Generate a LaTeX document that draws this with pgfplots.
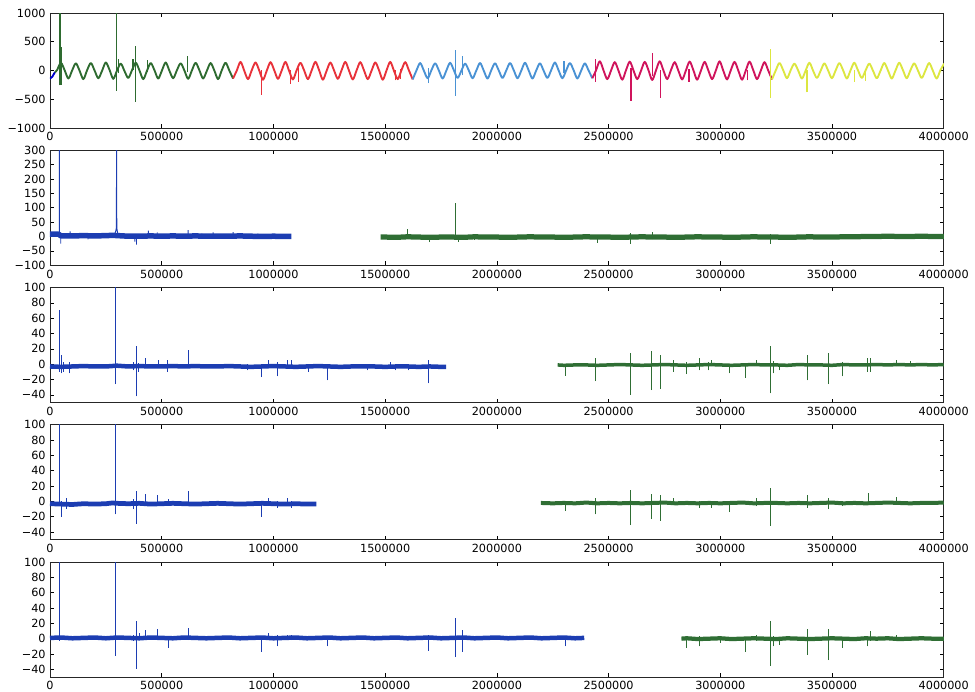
\documentclass[border=0pt]{standalone}
\usepackage{fontspec}
\setmainfont{DejaVu Sans}
\usepackage{pgfplots}
\pgfplotsset{compat=1.18}

\definecolor{sgreen}{HTML}{2E6B30}
\definecolor{sred}{HTML}{E8323A}
\definecolor{sblue}{HTML}{4A92D4}
\definecolor{smag}{HTML}{D0145C}
\definecolor{syel}{HTML}{DCE640}
\definecolor{cblue}{HTML}{1C3DB2}
\definecolor{cgreen}{HTML}{2F6E34}

\pgfplotsset{
  strip/.style={
    width=715pt, height=92pt, scale only axis, anchor=north west,
    xmin=0, xmax=4000000,
    xtick={0,500000,1000000,1500000,2000000,2500000,3000000,3500000,4000000},
    xticklabels={0,500000,1000000,1500000,2000000,2500000,3000000,3500000,4000000},
    scaled x ticks=false, scaled y ticks=false,
    tick align=inside, major tick length=3pt,
    tick style={black, line width=0.5pt},
    axis line style={line width=0.7pt, black!85},
    ticklabel style={font=\fontsize{9}{10}\selectfont},
    unbounded coords=jump,
  },
  spike/.style={line width=0.75pt},
  band/.style={line width=3pt, line join=round},
  wave/.style={line width=1.5pt, smooth, line join=round},
  lowstrip/.style={strip, ymin=-50, ymax=100,
    ytick={-40,-20,0,20,40,60,80,100},
    yticklabels={−40,−20,0,20,40,60,80,100}},
}

\begin{document}
\begin{tikzpicture}
\useasboundingbox (-40pt,10.4pt) rectangle (740pt,-543.2pt);

% ---------- channel 1: raw signal, one colour per recording block ----------
\begin{axis}[strip, at={(0,0)}, ymin=-1000, ymax=1000,
  ytick={-1000,-500,0,500,1000}, yticklabels={−1000,−500,0,500,1000}]
\addplot[blue!80!black, line width=1.5pt] coordinates {(0,-140) (10000,-110) (22000,-30)};
\addplot[sgreen, wave] coordinates {
(22000,-30) (32000,10) (48750,135) (65500,5) (82250,-140)
(99000,0) (115750,125) (132500,-5) (149250,-150)
(166000,5) (182750,130) (199500,0) (216250,-135)
(233000,-5) (249750,140) (266500,10) (283250,-145)
(300000,0) (316750,120) (333500,-10) (350250,-130)
(367000,5) (383750,135) (400500,0) (417250,-150)
(434000,-5) (450750,130) (467500,5) (484250,-140)
(501000,0) (517750,140) (534500,-5) (551250,-135)
(568000,5) (584750,125) (601500,0) (618250,-145)
(635000,0) (651750,135) (668500,5) (685250,-140)
(702000,-5) (718750,130) (735500,0) (752250,-150)
(769000,5) (785750,135) (802500,0) (819250,-140)};
\addplot[sred, wave] coordinates {
(819250,-140)
(836000,0) (852750,150) (869500,-5) (886250,-150)
(903000,5) (919750,140) (936500,0) (953250,-160)
(970000,-5) (986750,145) (1003500,5) (1020250,-145)
(1037000,0) (1053750,150) (1070500,-10) (1087250,-155)
(1104000,5) (1120750,135) (1137500,0) (1154250,-150)
(1171000,0) (1187750,150) (1204500,5) (1221250,-160)
(1238000,-5) (1254750,140) (1271500,0) (1288250,-145)
(1305000,5) (1321750,150) (1338500,-5) (1355250,-155)
(1372000,0) (1388750,145) (1405500,0) (1422250,-150)
(1439000,-5) (1455750,140) (1472500,5) (1489250,-160)
(1506000,0) (1522750,150) (1539500,-5) (1556250,-150)
(1573000,5) (1589750,145) (1606500,0) (1623250,-155)};
\addplot[sblue, wave] coordinates {
(1623250,-155)
(1640000,0) (1656750,130) (1673500,-5) (1690250,-135)
(1707000,5) (1723750,125) (1740500,0) (1757250,-140)
(1774000,0) (1790750,135) (1807500,5) (1824250,-130)
(1841000,-5) (1857750,120) (1874500,0) (1891250,-135)
(1908000,0) (1924750,130) (1941500,-5) (1958250,-140)
(1975000,5) (1991750,125) (2008500,0) (2025250,-130)
(2042000,0) (2058750,130) (2075500,5) (2092250,-135)
(2109000,-5) (2125750,135) (2142500,0) (2159250,-140)
(2176000,0) (2192750,125) (2209500,-5) (2226250,-130)
(2243000,5) (2259750,140) (2276500,0) (2293250,-135)
(2310000,0) (2326750,130) (2343500,5) (2360250,-140)
(2377000,-5) (2393750,125) (2410500,0) (2427250,-135)};
\addplot[smag, wave] coordinates {
(2427250,-135)
(2444000,5) (2460750,160) (2477500,0) (2494250,-150)
(2511000,0) (2527750,145) (2544500,-5) (2561250,-160)
(2578000,5) (2594750,155) (2611500,0) (2628250,-150)
(2645000,-5) (2661750,150) (2678500,5) (2695250,-165)
(2712000,0) (2728750,160) (2745500,0) (2762250,-150)
(2779000,5) (2795750,145) (2812500,-5) (2829250,-155)
(2846000,0) (2862750,155) (2879500,5) (2896250,-160)
(2913000,-5) (2929750,150) (2946500,0) (2963250,-150)
(2980000,0) (2996750,160) (3013500,-5) (3030250,-155)
(3047000,5) (3063750,150) (3080500,0) (3097250,-160)
(3114000,0) (3130750,155) (3147500,5) (3164250,-150)
(3181000,-5) (3197750,145) (3214500,0) (3231250,-155)};
\addplot[syel, wave] coordinates {
(3231250,-155)
(3248000,0) (3264750,130) (3281500,5) (3298250,-135)
(3315000,5) (3331750,120) (3348500,0) (3365250,-140)
(3382000,0) (3398750,135) (3415500,-5) (3432250,-130)
(3449000,-5) (3465750,125) (3482500,0) (3499250,-135)
(3516000,0) (3532750,130) (3549500,5) (3566250,-140)
(3583000,5) (3599750,135) (3616500,0) (3633250,-130)
(3650000,0) (3666750,120) (3683500,-5) (3700250,-135)
(3717000,-5) (3733750,130) (3750500,0) (3767250,-140)
(3784000,0) (3800750,135) (3817500,5) (3834250,-135)
(3851000,5) (3867750,125) (3884500,0) (3901250,-130)
(3918000,0) (3934750,130) (3951500,-5) (3968250,-140)
(3985000,5) (4001750,120)};
% transients
\addplot[sgreen, spike, line width=1pt] coordinates {
(44700,-260) (44700,1000) (44700,nan)
(52000,-250) (52000,400) (52000,nan)
(298000,-350) (298000,1000) (298000,nan)
(306000,-50) (306000,200) (306000,nan)
(372000,0) (372000,200) (372000,nan)
(384000,-540) (384000,420) (384000,nan)
(437000,-20) (437000,190) (437000,nan)
(617000,-30) (617000,250)};
\addplot[sred, spike, line width=1pt] coordinates {
(946000,-420) (946000,0) (946000,nan)
(1075000,-230) (1075000,0) (1075000,nan)
(1112000,-200) (1112000,50) (1112000,nan)
(1545000,-170) (1545000,0) (1545000,nan)
(1570000,-150) (1570000,20)};
\addplot[sblue, spike, line width=1pt] coordinates {
(1694000,-220) (1694000,50) (1694000,nan)
(1814000,-440) (1814000,360) (1814000,nan)
(1846000,-80) (1846000,260) (1846000,nan)
(2300000,-50) (2300000,170)};
\addplot[smag, spike, line width=1pt] coordinates {
(2443000,-200) (2443000,200) (2443000,nan)
(2600000,-530) (2600000,50) (2600000,nan)
(2695000,-100) (2695000,300) (2695000,nan)
(2733000,-470) (2733000,0) (2733000,nan)
(2860000,-200) (2860000,20) (2860000,nan)
(3120000,-170) (3120000,0)};
\addplot[syel, spike, line width=1pt] coordinates {
(3225000,-480) (3225000,380) (3225000,nan)
(3388000,-380) (3388000,0) (3388000,nan)
(3600000,-200) (3600000,0) (3600000,nan)
(3650000,-180) (3650000,10)};
\end{axis}

% ---------- channel 2 ----------
\begin{axis}[strip, at={(0,-109.8pt)}, ymin=-100, ymax=300,
  ytick={-100,-50,0,50,100,150,200,250,300},
  yticklabels={−100,−50,0,50,100,150,200,250,300}]
\addplot[cblue, band, line width=4.4pt] coordinates {
(0,8) (38000,8) (50000,2) (100000,2) (150000,3) (200000,2) (250000,3)
(280000,4) (304000,3) (350000,1) (400000,1)
(450000,2) (500000,1) (550000,2) (600000,1) (650000,2) (700000,1)
(750000,1) (800000,1) (850000,2) (900000,1) (950000,0) (1000000,1)
(1050000,0) (1080000,0)};
\addplot[cblue, spike] coordinates {
(41700,-5) (41700,320) (41700,nan)
(48000,-25) (48000,8) (48000,nan)
(90000,-5) (90000,18) (90000,nan)
(170000,-10) (170000,8) (170000,nan)
(288000,5) (294000,18) (297000,30) (298000,320) (298000,nan)
(298000,320) (299000,30) (302000,15) (306000,5) (306000,nan)
(380000,-18) (380000,5) (380000,nan)
(387000,-28) (387000,8) (387000,nan)
(440000,-5) (440000,20) (440000,nan)
(480000,-3) (480000,14) (480000,nan)
(540000,-5) (540000,12) (540000,nan)
(618000,-5) (618000,22) (618000,nan)
(680000,-8) (680000,10) (680000,nan)
(730000,0) (730000,14) (730000,nan)
(820000,-3) (820000,15) (820000,nan)
(930000,-5) (930000,10) (930000,nan)
(1010000,-8) (1010000,9)};
\addplot[cgreen, band, line width=4.2pt] coordinates {
(1480000,-2) (1500000,-2) (1550000,-3) (1600000,-1) (1650000,-2) (1700000,-3)
(1750000,-2) (1800000,-2) (1850000,-3) (1900000,-1) (1950000,-2) (2000000,-2)
(2050000,-3) (2100000,-2) (2150000,-1) (2200000,-2) (2250000,-2) (2300000,-3)
(2350000,-2) (2400000,-1) (2450000,-2) (2500000,-2) (2550000,-3) (2600000,-2)
(2650000,-1) (2700000,-2) (2750000,-2) (2800000,-3) (2850000,-2) (2900000,-1)
(2950000,-2) (3000000,-2) (3050000,-3) (3100000,-2) (3150000,-1) (3200000,-2)
(3250000,-2) (3300000,-3) (3350000,-2) (3400000,-1) (3450000,-2) (3500000,-2)
(3550000,-1) (3600000,-1) (3650000,0) (3700000,0) (3750000,1) (3800000,0)
(3850000,0) (3900000,1) (3950000,0) (4000000,0)};
\addplot[cgreen, spike] coordinates {
(1600000,-5) (1600000,25) (1600000,nan)
(1700000,-20) (1700000,0) (1700000,nan)
(1814000,-5) (1814000,117) (1814000,nan)
(1830000,-18) (1830000,0) (1830000,nan)
(1900000,-12) (1900000,5) (1900000,nan)
(2100000,-10) (2100000,6) (2100000,nan)
(2350000,-10) (2350000,5) (2350000,nan)
(2450000,-22) (2450000,0) (2450000,nan)
(2600000,-25) (2600000,12) (2600000,nan)
(2695000,-10) (2695000,15) (2695000,nan)
(2900000,-9) (2900000,6) (2900000,nan)
(3050000,-12) (3050000,3) (3050000,nan)
(3225000,-25) (3225000,10) (3225000,nan)
(3450000,-9) (3450000,6) (3450000,nan)
(3700000,-8) (3700000,8)};
\end{axis}

% ---------- channel 3 ----------
\begin{axis}[lowstrip, at={(0,-219.6pt)}]
\addplot[cblue, band, line width=3.6pt] coordinates {
(0,-3) (50000,-3.5) (100000,-3) (150000,-2.5) (200000,-3) (250000,-3) (300000,-2)
(350000,-3) (400000,-2.5) (450000,-3) (500000,-3) (550000,-2.5) (600000,-3)
(650000,-2.5) (700000,-3) (750000,-3) (800000,-2.5) (850000,-3) (900000,-3.5)
(950000,-3) (1000000,-2.5) (1050000,-3) (1100000,-3.5) (1150000,-3) (1200000,-2.5)
(1250000,-3) (1300000,-3.5) (1350000,-3) (1400000,-3) (1450000,-3) (1500000,-3.5)
(1550000,-3) (1600000,-3) (1650000,-3.5) (1700000,-3) (1750000,-3.5) (1773000,-3.5)};
\addplot[cblue, spike] coordinates {
(40200,-10) (40200,71) (40200,nan)
(50000,-12) (50000,12) (50000,nan)
(62000,-10) (62000,3) (62000,nan)
(85000,-12) (85000,3) (85000,nan)
(293500,-26) (293500,105) (293500,nan)
(375000,-8) (375000,3) (375000,nan)
(387000,-42) (387000,24) (387000,nan)
(397000,-10) (397000,2) (397000,nan)
(427600,-5) (427600,8) (427600,nan)
(485000,-3) (485000,5) (485000,nan)
(526000,-10) (526000,5) (526000,nan)
(618000,-3) (618000,18) (618000,nan)
(886000,-8) (886000,0) (886000,nan)
(946000,-17) (946000,0) (946000,nan)
(980000,-3) (980000,5) (980000,nan)
(1020000,-16) (1020000,3) (1020000,nan)
(1065000,-3) (1065000,6) (1065000,nan)
(1080000,-3) (1080000,6) (1080000,nan)
(1155000,-10) (1155000,0) (1155000,nan)
(1241000,-21) (1241000,0) (1241000,nan)
(1420000,-8) (1420000,0) (1420000,nan)
(1525000,-6) (1525000,3) (1525000,nan)
(1545000,-8) (1545000,0) (1545000,nan)
(1605000,-8) (1605000,0) (1605000,nan)
(1695000,-25) (1695000,6)};
\addplot[cgreen, band, line width=2.8pt] coordinates {
(2272000,-1) (2300000,-1.5) (2350000,-1) (2400000,-1) (2450000,-1.5) (2500000,-1)
(2550000,-0.5) (2600000,-1) (2650000,-1.5) (2700000,-1) (2750000,-0.5) (2800000,-1)
(2850000,-1.5) (2900000,-1) (2950000,-0.5) (3000000,-1) (3050000,-1.5) (3100000,-1)
(3150000,-0.5) (3200000,-1) (3250000,-1) (3300000,-1.5) (3350000,-0.5) (3400000,-1)
(3450000,-1) (3500000,-1.5) (3550000,-0.5) (3600000,-1) (3650000,-1) (3700000,-0.5)
(3750000,-1) (3800000,-0.5) (3850000,-1) (3900000,-0.5) (3950000,-1) (4000000,-0.5)};
\addplot[cgreen, spike] coordinates {
(2306000,-15) (2306000,0) (2306000,nan)
(2443000,-22) (2443000,8) (2443000,nan)
(2600000,-40) (2600000,15) (2600000,nan)
(2693000,-34) (2693000,17) (2693000,nan)
(2733000,-32) (2733000,12) (2733000,nan)
(2790000,-10) (2790000,6) (2790000,nan)
(2848000,-13) (2848000,3) (2848000,nan)
(2905000,-8) (2905000,8) (2905000,nan)
(2945000,-8) (2945000,3) (2945000,nan)
(2960000,-3) (2960000,5) (2960000,nan)
(3042000,-12) (3042000,0) (3042000,nan)
(3113000,-18) (3113000,2) (3113000,nan)
(3160000,-2) (3160000,5) (3160000,nan)
(3225000,-38) (3225000,24) (3225000,nan)
(3240000,-12) (3240000,4) (3240000,nan)
(3265000,-8) (3265000,0) (3265000,nan)
(3389000,-21) (3389000,12) (3389000,nan)
(3486000,-26) (3486000,15) (3486000,nan)
(3548000,-16) (3548000,3) (3548000,nan)
(3657000,-10) (3657000,8) (3657000,nan)
(3672000,-10) (3672000,8) (3672000,nan)
(3790000,-3) (3790000,5) (3790000,nan)
(3850000,-2) (3850000,4)};
\end{axis}

% ---------- channel 4 ----------
\begin{axis}[lowstrip, at={(0,-329.4pt)}]
\addplot[cblue, band, line width=3.8pt] coordinates {
(0,-3) (50000,-3.5) (100000,-4) (150000,-3) (200000,-3.5) (250000,-3) (280000,-2)
(300000,-2.5) (350000,-3) (400000,-2.5) (450000,-3.5) (500000,-3) (550000,-2.5)
(600000,-3) (650000,-3.5) (700000,-3) (750000,-2.5) (800000,-3) (850000,-3.5)
(900000,-3) (950000,-2.5) (1000000,-3) (1050000,-3.5) (1100000,-3) (1150000,-3.5) (1192000,-3.5)};
\addplot[cblue, spike] coordinates {
(40200,-5) (40200,105) (40200,nan)
(52000,-20) (52000,0) (52000,nan)
(73000,-10) (73000,5) (73000,nan)
(293500,-17) (293500,105) (293500,nan)
(375000,-10) (375000,3) (375000,nan)
(387000,-29) (387000,14) (387000,nan)
(427600,-3) (427600,10) (427600,nan)
(481000,-3) (481000,8) (481000,nan)
(529000,-5) (529000,3) (529000,nan)
(618000,-3) (618000,14) (618000,nan)
(946000,-20) (946000,0) (946000,nan)
(980000,-3) (980000,5) (980000,nan)
(1020000,-8) (1020000,0) (1020000,nan)
(1065000,-3) (1065000,5) (1065000,nan)
(1080000,-8) (1080000,0)};
\addplot[cgreen, band, line width=3.2pt] coordinates {
(2197000,-2) (2250000,-2.5) (2300000,-2) (2350000,-2.5) (2400000,-1.5) (2450000,-2.5)
(2500000,-2) (2550000,-2.5) (2600000,-2) (2650000,-2.5) (2700000,-2) (2750000,-1.5)
(2800000,-2.5) (2850000,-2) (2900000,-2.5) (2950000,-2) (3000000,-2.5) (3050000,-2)
(3100000,-1.5) (3150000,-2.5) (3200000,-2) (3250000,-2) (3300000,-2.5) (3350000,-2)
(3400000,-2.5) (3450000,-2) (3500000,-1.5) (3550000,-2.5) (3600000,-2) (3650000,-2.5)
(3700000,-2) (3750000,-1.5) (3800000,-2) (3850000,-2.5) (3900000,-2) (3950000,-2) (4000000,-1.5)};
\addplot[cgreen, spike] coordinates {
(2306000,-12) (2306000,0) (2306000,nan)
(2443000,-17) (2443000,5) (2443000,nan)
(2600000,-31) (2600000,15) (2600000,nan)
(2693000,-23) (2693000,10) (2693000,nan)
(2733000,-25) (2733000,8) (2733000,nan)
(2790000,-5) (2790000,5) (2790000,nan)
(2905000,-8) (2905000,0) (2905000,nan)
(2960000,-8) (2960000,0) (2960000,nan)
(3042000,-14) (3042000,0) (3042000,nan)
(3160000,-6) (3160000,5) (3160000,nan)
(3225000,-32) (3225000,18) (3225000,nan)
(3389000,-8) (3389000,8) (3389000,nan)
(3486000,-10) (3486000,5) (3486000,nan)
(3548000,-6) (3548000,0) (3548000,nan)
(3665000,-5) (3665000,11) (3665000,nan)
(3790000,-3) (3790000,6)};
\end{axis}

% ---------- channel 5 ----------
\begin{axis}[lowstrip, at={(0,-439.2pt)}]
\addplot[cblue, band, line width=3.6pt] coordinates {
(0,1) (50000,1.5) (100000,0.5) (150000,1) (200000,1.5) (250000,0.5) (300000,1.5)
(350000,1) (400000,0.5) (450000,1.5) (500000,1) (550000,0.5) (600000,1.5) (650000,1)
(700000,0.5) (750000,1) (800000,1.5) (850000,0.5) (900000,1) (950000,1.5) (1000000,0.5)
(1050000,1) (1100000,1.5) (1150000,0.5) (1200000,1) (1250000,1.5) (1300000,0.5)
(1350000,1) (1400000,1.5) (1450000,0.5) (1500000,1) (1550000,1.5) (1600000,0.5)
(1650000,1) (1700000,1.5) (1750000,0.5) (1800000,1) (1850000,1.5) (1900000,0.5)
(1950000,1) (2000000,1.5) (2050000,0.5) (2100000,1) (2150000,1.5) (2200000,0.5)
(2250000,1) (2300000,1.5) (2350000,0.5) (2391000,1)};
\addplot[cblue, spike] coordinates {
(40200,-3) (40200,105) (40200,nan)
(293500,-22) (293500,105) (293500,nan)
(375000,-3) (375000,5) (375000,nan)
(387000,-39) (387000,23) (387000,nan)
(400000,0) (400000,8) (400000,nan)
(427600,-2) (427600,11) (427600,nan)
(481000,-2) (481000,12) (481000,nan)
(529000,-12) (529000,3) (529000,nan)
(618000,-2) (618000,14) (618000,nan)
(946000,-17) (946000,0) (946000,nan)
(980000,-2) (980000,7) (980000,nan)
(1020000,-10) (1020000,5) (1020000,nan)
(1065000,-2) (1065000,5) (1065000,nan)
(1080000,-2) (1080000,5) (1080000,nan)
(1241000,-10) (1241000,0) (1241000,nan)
(1600000,-2) (1600000,4) (1600000,nan)
(1695000,-16) (1695000,5) (1695000,nan)
(1814000,-24) (1814000,27) (1814000,nan)
(1847000,-17) (1847000,11) (1847000,nan)
(2306000,-10) (2306000,0)};
\addplot[cgreen, band, line width=3.4pt] coordinates {
(2826000,0) (2850000,0.5) (2900000,-0.5) (2950000,0) (3000000,0.5) (3050000,-0.5)
(3100000,0) (3150000,0.5) (3200000,0) (3250000,-0.5) (3300000,0.5) (3350000,0)
(3400000,-0.5) (3450000,0) (3500000,0.5) (3550000,0) (3600000,-0.5) (3650000,0.5)
(3700000,0) (3750000,0.5) (3800000,-0.5) (3850000,0) (3900000,0.5) (3950000,0) (4000000,0)};
\addplot[cgreen, spike] coordinates {
(2848000,-12) (2848000,3) (2848000,nan)
(2905000,-10) (2905000,3) (2905000,nan)
(3000000,-5) (3000000,3) (3000000,nan)
(3113000,-17) (3113000,2) (3113000,nan)
(3160000,-3) (3160000,5) (3160000,nan)
(3225000,-35) (3225000,23) (3225000,nan)
(3240000,-10) (3240000,4) (3240000,nan)
(3265000,-8) (3265000,0) (3265000,nan)
(3389000,-21) (3389000,12) (3389000,nan)
(3486000,-28) (3486000,13) (3486000,nan)
(3548000,-12) (3548000,0) (3548000,nan)
(3657000,-10) (3657000,3) (3657000,nan)
(3672000,-3) (3672000,10) (3672000,nan)
(3790000,-3) (3790000,5)};
\end{axis}
\end{tikzpicture}
\end{document}
